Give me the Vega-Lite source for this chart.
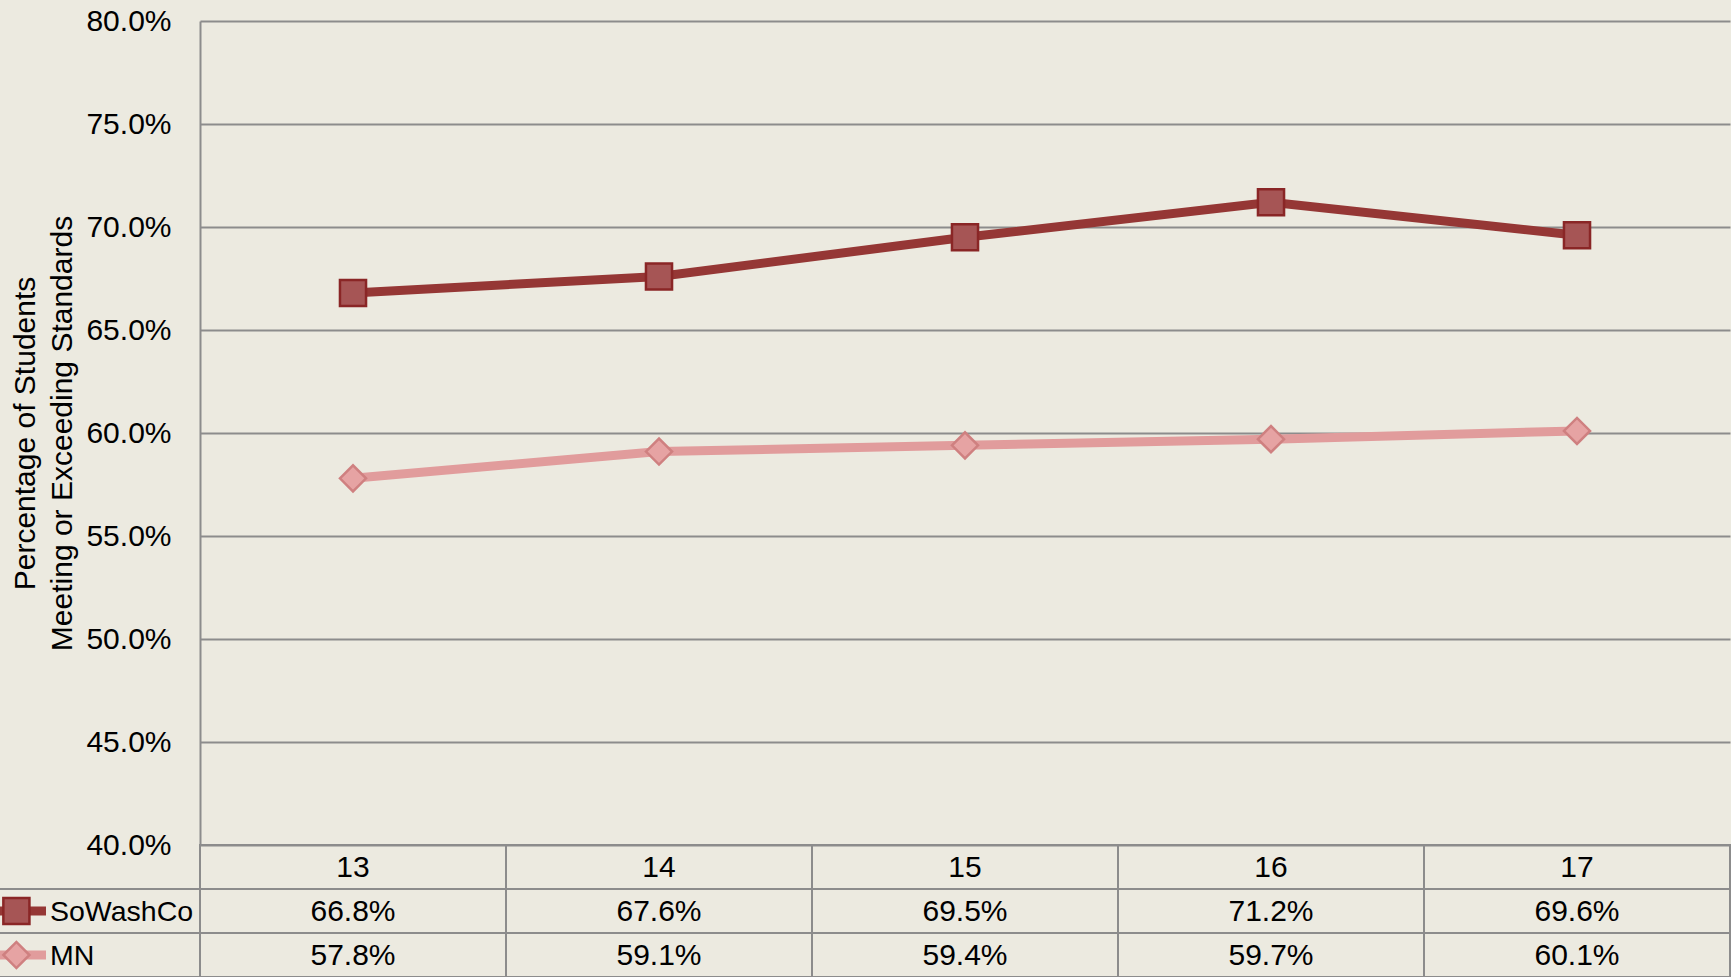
{
  "$schema": "https://vega.github.io/schema/vega-lite/v6.json",
  "width": 1530,
  "height": 824,
  "autosize": {"type": "none"},
  "padding": {"left": 200, "top": 21, "right": 1, "bottom": 132},
  "background": "#ECEAE0",
  "config": {"view": {"stroke": null}, "font": "Liberation Sans", "text": {"color": "#000000"}},
  "datasets": {
    "scores": [
      {"series": "SoWashCo", "grade": "13", "value": 0.668},
      {"series": "SoWashCo", "grade": "14", "value": 0.676},
      {"series": "SoWashCo", "grade": "15", "value": 0.695},
      {"series": "SoWashCo", "grade": "16", "value": 0.712},
      {"series": "SoWashCo", "grade": "17", "value": 0.696},
      {"series": "MN", "grade": "13", "value": 0.578},
      {"series": "MN", "grade": "14", "value": 0.591},
      {"series": "MN", "grade": "15", "value": 0.594},
      {"series": "MN", "grade": "16", "value": 0.597},
      {"series": "MN", "grade": "17", "value": 0.601}
    ]
  },
  "data": {"name": "scores"},
  "layer": [
    {
      "encoding": {
        "x": {"field": "grade", "type": "ordinal", "scale": {"type": "band", "paddingInner": 0, "paddingOuter": 0}, "axis": null},
        "y": {
          "field": "value", "type": "quantitative",
          "scale": {"domain": [0.4, 0.8], "nice": false, "zero": false},
          "axis": {
            "values": [0.4, 0.45, 0.5, 0.55, 0.6, 0.65, 0.7, 0.75, 0.8],
            "format": ".1%",
            "title": ["Percentage of Students", "Meeting or Exceeding Standards"],
            "titleFont": "Liberation Sans",
            "titleFontSize": 30,
            "titleFontWeight": "normal",
            "titleColor": "#000000",
            "titleLineHeight": 37,
            "titlePadding": 8,
            "labelFontSize": 30,
            "labelColor": "#000000",
            "labelPadding": 29,
            "ticks": false,
            "domainColor": "#8C8C8C",
            "domainWidth": 2,
            "gridColor": "#8C8C8C",
            "gridWidth": 2
          }
        }
      },
      "layer": [
        {
          "mark": {"type": "line", "strokeWidth": 9},
          "encoding": {
            "color": {"field": "series", "type": "nominal", "scale": {"domain": ["SoWashCo", "MN"], "range": ["#953735", "#E19C9C"]}, "legend": null}
          }
        },
        {
          "mark": {"type": "point", "filled": true, "strokeWidth": 2.5, "opacity": 1, "size": 680},
          "encoding": {
            "shape": {"field": "series", "type": "nominal", "scale": {"domain": ["SoWashCo", "MN"], "range": ["square", "diamond"]}, "legend": null},
            "fill": {"field": "series", "type": "nominal", "scale": {"domain": ["SoWashCo", "MN"], "range": ["#A65555", "#E6A3A3"]}, "legend": null},
            "stroke": {"field": "series", "type": "nominal", "scale": {"domain": ["SoWashCo", "MN"], "range": ["#8A2626", "#CF8080"]}, "legend": null}
          }
        }
      ]
    },
    {
      "encoding": {
        "x": {"field": "grade", "type": "ordinal", "scale": {"type": "band", "domain": ["L", "13", "14", "15", "16", "17"], "range": [-306, 1530], "paddingInner": 0, "paddingOuter": 0}, "axis": null},
        "y": {"field": "series", "type": "nominal", "scale": {"type": "band", "domain": ["h", "SoWashCo", "MN"], "range": [824, 956], "paddingInner": 0, "paddingOuter": 0}, "axis": null}
      },
      "layer": [
        {
          "mark": {"type": "rect", "fill": "transparent", "stroke": "#8C8C8C", "strokeWidth": 2}
        },
        {
          "transform": [{"filter": "datum.series == 'SoWashCo'"}],
          "mark": {"type": "rect", "fill": "transparent", "stroke": "#8C8C8C", "strokeWidth": 2},
          "encoding": {"y": {"datum": "h", "type": "nominal"}}
        },
        {
          "transform": [{"filter": "datum.grade == '13'"}],
          "mark": {"type": "rect", "fill": "transparent", "stroke": "#8C8C8C", "strokeWidth": 2},
          "encoding": {"x": {"datum": "L", "type": "ordinal"}}
        },
        {
          "transform": [{"filter": "datum.series == 'SoWashCo'"}],
          "mark": {"type": "text", "fontSize": 30, "baseline": "middle", "dy": 1},
          "encoding": {"y": {"datum": "h", "type": "nominal"}, "text": {"field": "grade"}}
        },
        {
          "mark": {"type": "text", "fontSize": 30, "baseline": "middle", "dy": 1},
          "encoding": {"text": {"field": "value", "type": "quantitative", "format": ".1%"}}
        },
        {
          "transform": [{"filter": "datum.grade == '13'"}],
          "mark": {"type": "tick", "orient": "horizontal", "size": 50, "thickness": 9, "opacity": 1, "xOffset": -26},
          "encoding": {
            "x": {"datum": "L", "type": "ordinal"},
            "color": {"field": "series", "type": "nominal", "legend": null}
          }
        },
        {
          "transform": [{"filter": "datum.grade == '13'"}],
          "mark": {"type": "point", "filled": true, "strokeWidth": 2.5, "opacity": 1, "size": 680},
          "encoding": {
            "x": {"datum": "L", "type": "ordinal", "bandPosition": 0.4},
            "shape": {"field": "series", "type": "nominal", "legend": null},
            "fill": {"field": "series", "type": "nominal", "legend": null},
            "stroke": {"field": "series", "type": "nominal", "legend": null}
          }
        },
        {
          "transform": [{"filter": "datum.grade == '13'"}],
          "mark": {"type": "text", "fontSize": 28.5, "baseline": "middle", "align": "left", "dx": 3, "dy": 1},
          "encoding": {
            "x": {"datum": "L", "type": "ordinal", "bandPosition": 0.5},
            "text": {"field": "series"}
          }
        }
      ]
    }
  ],
  "resolve": {"scale": {"x": "independent", "y": "independent"}}
}
